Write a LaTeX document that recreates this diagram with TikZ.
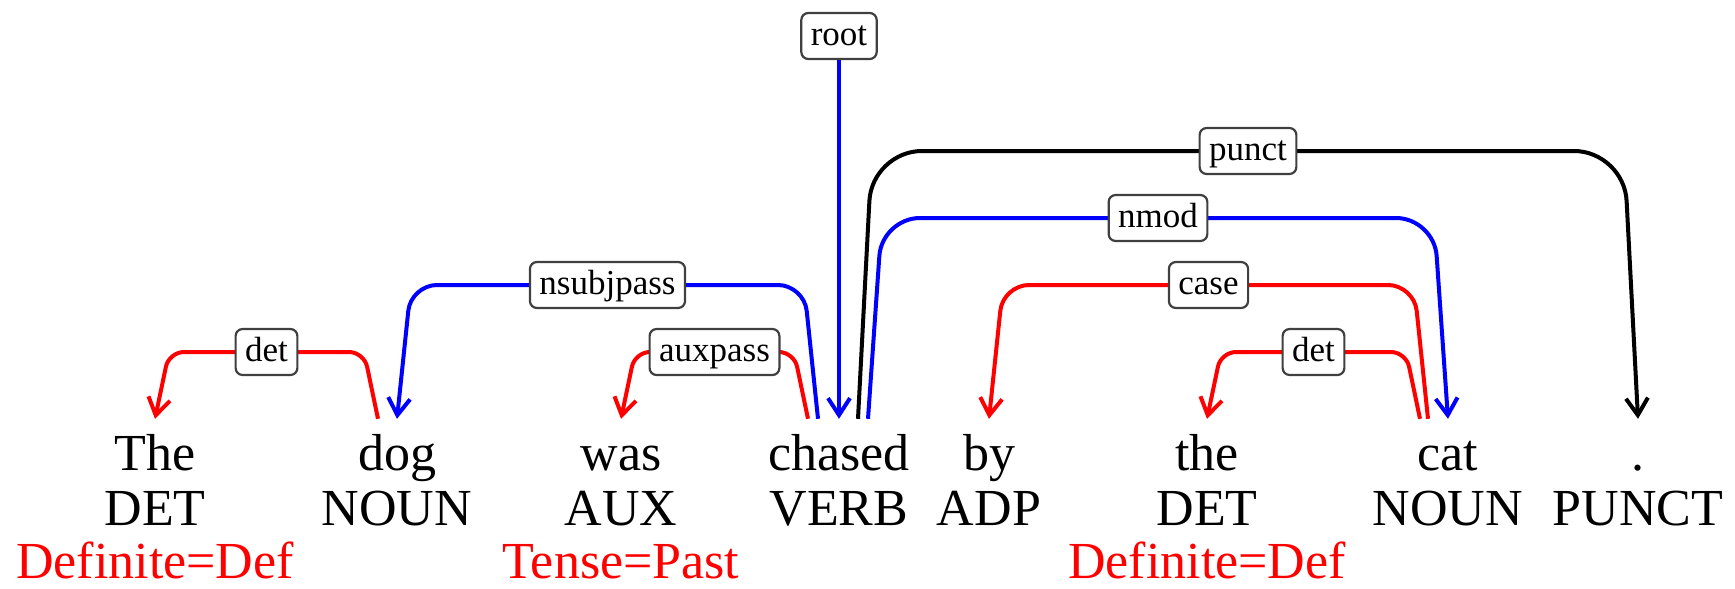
\documentclass[tikz,border=0pt]{standalone}
\usepackage{fontspec}
\setmainfont{Liberation Serif}
\usetikzlibrary{arrows.meta,calc}

% one dependency arc: colour, head end, dependent end, level line, corner radius, relation
\newcommand\depedge[6]{%
  \draw[deparc, draw=#1, rounded corners=#5] (#2)
    -- ($(#2 |- #4)!14pt!(#3 |- #4)$)
    -- node[lab] {#6} ($(#3 |- #4)!14pt!(#2 |- #4)$)
    -- (#3);}

\begin{document}
\begin{tikzpicture}[x=1pt,y=-1pt,
  tok/.style={anchor=base, inner xsep=0pt, inner ysep=15pt, text height=36pt, text depth=0pt,
              font=\fontsize{52}{55}\selectfont},
  tagtext/.style={anchor=base, inner sep=0pt, font=\fontsize{52}{55}\selectfont},
  feat/.style={anchor=base, inner sep=0pt, text=red, font=\fontsize{52}{55}\selectfont},
  lab/.style={draw=black!75, line width=2.2pt, fill=white, rounded corners=7pt, text=black,
              inner xsep=9.5pt, inner ysep=7pt, text height=25pt, text depth=7pt,
              font=\fontsize{35}{40}\selectfont},
  deparc/.style={line width=4pt, -{Straight Barb[length=17pt,width=22pt]}},
]
\useasboundingbox (0,0) rectangle (1735,589);

% tokens
\node[tok] (t1) at (155,470) {The};
\node[tok] (t2) at (397,470) {dog};
\node[tok] (t3) at (621,470) {was};
\node[tok] (t4) at (839,470) {chased};
\node[tok] (t5) at (989,470) {by};
\node[tok] (t6) at (1207,470) {the};
\node[tok] (t7) at (1448,470) {cat};
\node[tok] (t8) at (1638,470) {.};

% part-of-speech tags
\node[tagtext] (p1) at (155,525) {DET};
\node[tagtext] (p2) at (397,525) {NOUN};
\node[tagtext] (p3) at (621,525) {AUX};
\node[tagtext] (p4) at (839,525) {VERB};
\node[tagtext] (p5) at (989,525) {ADP};
\node[tagtext] (p6) at (1207,525) {DET};
\node[tagtext] (p7) at (1448,525) {NOUN};
\node[tagtext] (p8) at (1638,525) {PUNCT};

% morphological features
\node[feat] (f1) at (155,578) {Definite=Def};
\node[feat] (f3) at (621,578) {Tense=Past};
\node[feat] (f6) at (1207,578) {Definite=Def};

% arc ends above the tokens
\coordinate (t1-in)    at (t1.north);
\coordinate (t2-det)   at ([xshift=-19pt]t2.north);
\coordinate (t2-in)    at (t2.north);
\coordinate (t3-in)    at (t3.north);
\coordinate (t4-aux)   at ([xshift=-31pt]t4.north);
\coordinate (t4-subj)  at ([xshift=-21pt]t4.north);
\coordinate (t4-punct) at ([xshift=19pt]t4.north);
\coordinate (t4-nmod)  at ([xshift=29pt]t4.north);
\coordinate (t5-in)    at (t5.north);
\coordinate (t6-in)    at (t6.north);
\coordinate (t7-det)   at ([xshift=-28pt]t7.north);
\coordinate (t7-case)  at ([xshift=-20pt]t7.north);
\coordinate (t7-in)    at (t7.north);
\coordinate (t8-in)    at (t8.north);

% arc levels
\coordinate (L1) at (0,352);
\coordinate (L2) at (0,285);
\coordinate (L3) at (0,218);
\coordinate (L4) at (0,151);

% arcs
\depedge{red}{t2-det}{t1-in}{L1}{15pt}{det}
\depedge{red}{t4-aux}{t3-in}{L1}{15pt}{auxpass}
\depedge{red}{t7-det}{t6-in}{L1}{15pt}{det}
\depedge{blue}{t4-subj}{t2-in}{L2}{26pt}{nsubjpass}
\depedge{red}{t7-case}{t5-in}{L2}{26pt}{case}
\depedge{blue}{t4-nmod}{t7-in}{L3}{38pt}{nmod}
\depedge{black}{t4-punct}{t8-in}{L4}{50pt}{punct}

% root
\node[lab] (root) at (839,36) {root};
\draw[deparc, draw=blue] (root.south) -- (t4.north);
\end{tikzpicture}
\end{document}
